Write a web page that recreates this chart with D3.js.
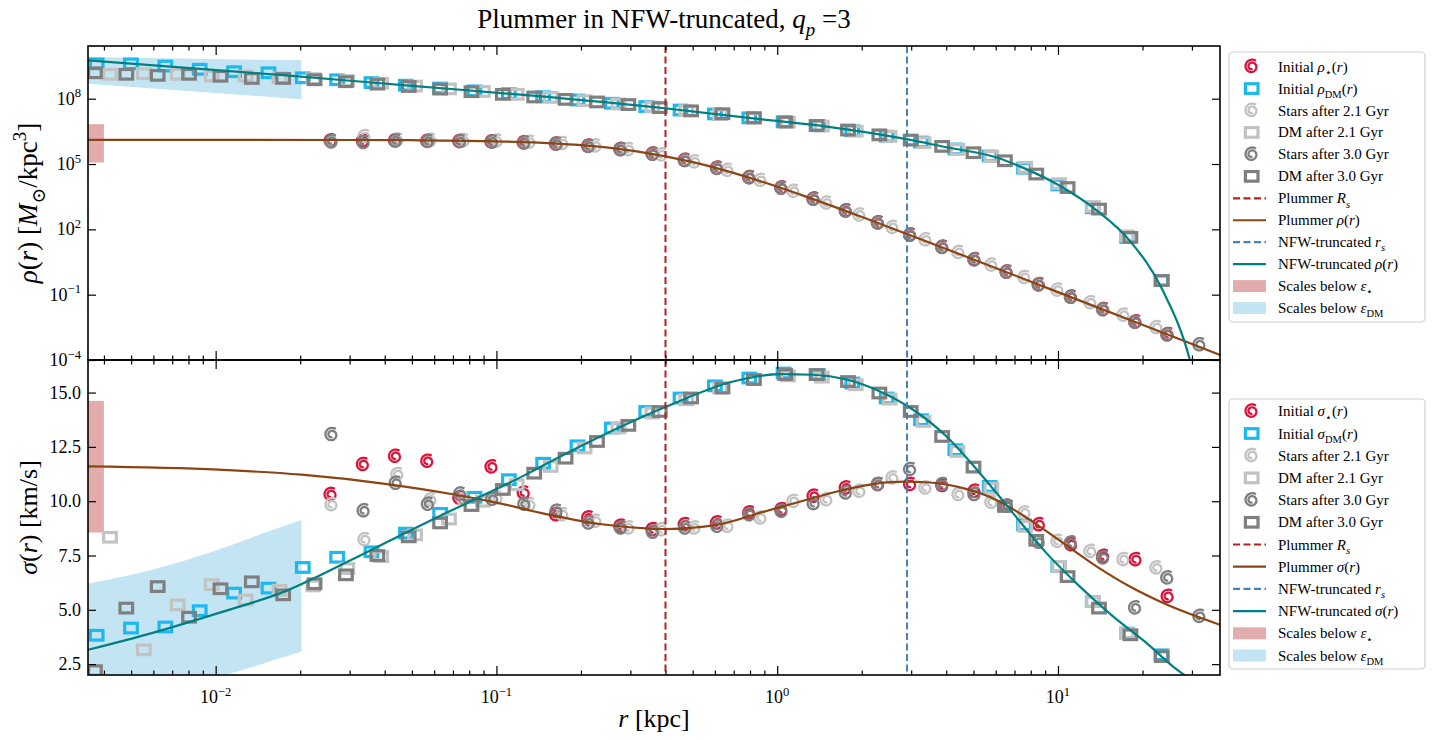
<!DOCTYPE html>
<html><head><meta charset="utf-8">
<script src="https://cdn.jsdelivr.net/npm/d3@7"></script>
<style>body{margin:0;background:#fff;} svg{display:block;}</style>
</head><body><svg id="c" width="1445" height="740"></svg>
<script>
// ---------------- DATA ----------------
// radii of the radial bins [kpc]
const rStarInit = [0.0257,0.0335,0.0436,0.0568,0.0739,0.0962,0.1253,0.1632,0.2125,0.2767,0.3602,0.469,0.611,0.796,1.036,1.349,1.757,2.287,2.979,3.879,5.051,6.577,8.564,11.15,14.52,18.91,24.62];
const rStar21 = [0.02588,0.03393,0.04446,0.0583,0.0764,0.1002,0.1313,0.172,0.2256,0.2956,0.3876,0.5079,0.6658,0.8726,1.144,1.499,1.965,2.576,3.377,4.426,5.8,7.603,9.966,13.06,17.12,22.44];
const rStar30 = [0.02588,0.0337,0.04386,0.0571,0.07431,0.09674,0.1259,0.1639,0.2133,0.2777,0.3614,0.4705,0.6124,0.7969,1.0375,1.3502,1.758,2.288,2.978,3.876,5.046,6.568,8.548,11.13,14.49,18.85,24.54,31.94];
const rDMInit = [0.003768,0.004994,0.00662,0.008774,0.01163,0.01542,0.02043,0.02708,0.03589,0.04756,0.06302,0.08352,0.1107,0.1467,0.1944,0.2577,0.3416,0.4526,0.6,0.7955,1.054,1.397,1.851,2.454,3.252,4.309,5.712,7.571,10.03,13.3,17.62,23.36];
const rDM21 = [0.004203,0.00555,0.007329,0.009678,0.01278,0.01688,0.02228,0.02943,0.03886,0.05131,0.06776,0.08948,0.1181,0.156,0.206,0.272,0.3592,0.4743,0.6263,0.827,1.092,1.442,1.904,2.514,3.32,4.384,5.789,7.644,10.09,13.33,17.6];
const rDM30 = [0.003716,0.004805,0.006216,0.00804,0.0104,0.01345,0.0174,0.0225,0.02911,0.03765,0.04871,0.063,0.08149,0.1054,0.1363,0.1763,0.2281,0.295,0.3816,0.4935,0.6384,0.8258,1.068,1.381,1.787,2.311,2.989,3.867,5.002,6.47,8.369,10.82,14.0,18.11,23.42];

// density, log10(rho / [Msun/kpc^3])
const logRhoStarInit = [6.05,6.05,6.06,6.04,6.03,6.01,5.97,5.91,5.81,5.66,5.45,5.16,4.80,4.37,3.89,3.38,2.84,2.29,1.73,1.17,0.60,0.03,-0.55,-1.12,-1.69,-2.26,-2.84];
const logRhoStar21 = [5.98,6.25,6.09,6.08,6.06,6.04,5.99,5.93,5.82,5.65,5.41,5.09,4.70,4.24,3.74,3.20,2.65,2.08,1.51,0.93,0.35,-0.22,-0.80,-1.38,-1.95,-2.52];
const logRhoStar30 = [6.03,5.98,6.05,6.03,6.02,6.00,5.96,5.90,5.80,5.65,5.44,5.15,4.79,4.36,3.88,3.37,2.83,2.28,1.72,1.16,0.59,0.02,-0.56,-1.13,-1.70,-2.28,-2.86,-3.31];
const logRhoDMInit = [9.60,9.60,9.50,9.35,9.24,9.19,8.96,8.87,8.74,8.62,8.49,8.36,8.23,8.09,7.94,7.79,7.64,7.48,7.30,7.12,6.94,6.76,6.53,6.28,6.01,5.69,5.37,4.81,4.04,2.99,1.63,-0.35];
const logRhoDM21 = [9.12,9.15,9.12,9.04,9.04,8.96,8.92,8.83,8.71,8.58,8.45,8.33,8.20,8.06,7.91,7.76,7.62,7.45,7.27,7.09,6.92,6.74,6.51,6.27,5.98,5.67,5.35,4.85,4.10,3.05,1.70];
const logRhoDM30 = [9.19,9.12,9.07,9.12,9.03,8.93,8.93,8.87,8.78,8.67,8.56,8.44,8.32,8.20,8.08,7.97,7.85,7.73,7.59,7.44,7.31,7.13,6.93,6.77,6.56,6.34,6.10,5.81,5.52,5.15,4.54,3.92,2.93,1.63,-0.35];

// velocity dispersion [km/s]
const sigStarInit = [10.3,11.68,12.06,11.83,10.14,11.57,10.37,9.37,9.22,8.84,8.68,8.91,8.99,9.45,9.60,10.22,10.6,10.76,10.76,10.71,10.45,9.76,8.91,7.99,7.45,7.30,5.61];
const sigStar21 = [9.83,8.22,11.22,10.05,10.06,10.14,9.83,9.37,9.07,8.76,8.68,8.76,8.84,9.22,9.98,10.06,10.45,11.06,10.6,10.3,9.94,9.45,8.14,7.68,7.30,6.92];
const sigStar30 = [13.06,9.55,10.82,9.85,10.32,10.08,9.85,9.53,8.99,8.76,8.56,8.76,8.84,9.37,9.53,9.88,10.37,10.76,11.45,10.76,10.3,9.76,8.1,8.07,7.38,5.08,6.46,4.69];
const sigDMInit = [3.83,4.16,4.21,4.96,5.77,6.0,6.95,7.42,7.67,8.53,9.44,10.18,10.99,11.75,12.55,13.37,14.13,14.75,15.31,15.67,15.9,15.83,15.44,14.75,13.75,12.37,10.68,8.91,7.0,5.38,3.93,2.93];
const sigDM21 = [8.34,3.16,5.23,6.16,5.45,5.9,6.1,6.9,7.45,8.45,9.18,10.0,10.76,11.6,12.45,13.37,14.06,14.67,15.21,15.6,15.77,15.71,15.36,14.7,13.67,12.29,10.6,8.84,7.0,5.38,3.93];
const sigDM30 = [2.2,5.08,6.07,4.66,5.97,6.29,5.69,6.2,6.61,7.5,8.36,9.0,9.8,10.54,11.29,11.98,12.75,13.49,14.13,14.75,15.21,15.6,15.83,15.83,15.51,14.98,14.13,12.98,11.57,9.76,8.2,6.53,5.08,3.85,2.85];

// model curves
const rPlumRho = [0.00351,0.0316,0.0501,0.1,0.1585,0.1995,0.3162,0.5012,0.7943,1.259,1.995,3.162,5.623,10,17.78,37.76];
const logPlumRho = [6.11,6.103,6.093,6.044,5.952,5.869,5.583,5.085,4.375,3.516,2.578,1.603,0.365,-0.882,-2.131,-3.765];
const rNfwRho = [0.00351,0.0169,0.05,0.128,0.398,0.868,1.5,2.89,4.0,6.05,7.6,10.0,13.7,18.0,23.6,29.5,31.5];
const logNfwRho = [9.76,9.09,8.59,8.16,7.56,7.06,6.72,6.14,5.77,5.30,4.80,4.05,2.88,1.48,-0.80,-4.0,-5.5];
const rPlumSig = [0.00351,0.01021,0.02023,0.04009,0.06918,0.1028,0.1549,0.2333,0.3516,0.4036,0.6081,0.9162,1.343,1.766,2.323,2.812,3.499,4.592,6.039,7.943,10.44,13.71,18.03,23.71,37.76];
const plumSig = [11.6,11.45,11.22,10.8,10.33,9.9,9.37,8.95,8.74,8.72,8.91,9.55,10.15,10.55,10.83,10.9,10.86,10.6,10.06,9.14,8.07,7.0,6.07,5.31,4.31];
const rNfwSig = [0.00351,0.00592,0.01021,0.01766,0.03048,0.05272,0.07834,0.1262,0.1778,0.4036,0.6966,1.023,1.343,1.766,2.323,3.048,4.009,5.272,6.918,9.099,11.97,15.74,20.7,25.7,32.06];
const nfwSig = [3.16,3.93,4.85,5.85,7.30,8.84,9.91,11.2,12.21,14.36,15.51,15.85,15.82,15.6,15.05,14.21,12.98,11.29,9.45,7.61,6.07,4.69,3.47,2.39,1.5];

// scale radii and softening bands
const plummerRs = 0.40, nfwRs = 2.9;
const epsStar = 0.004, epsDM = 0.02;
const bandStarLogRho = [5.07, 6.83];
const bandStarSig = [8.56, 14.62];
const bandDMRhoR = [0.00351, 0.0202];
const bandDMLogRhoTop = [9.91, 9.76];
const bandDMLogRhoBot = [8.69, 7.97];
const bandDMSigR = [0.00351,0.00592,0.01021,0.01538,0.0202];
const bandDMSigTop = [6.2,6.84,7.76,8.6,9.14];
const bandDMSigBot = [0.3,1.0,1.9,2.6,3.08];

// ticks
const xMajor = [0.01,0.1,1,10];
const xMajorExp = ["−2","−1","0","1"];
const yTopExp = [-4,-1,2,5,8];
const yBotTicks = [2.5,5,7.5,10,12.5,15];

// ---------------- DRAWING ----------------
const FONT = "'Liberation Serif','DejaVu Serif',serif";
const C = {
  starInit:"#dc143c", dmInit:"#1cb8ee", lgray:"#c2c2c2", gray:"#7f7f7f",
  plumRs:"#b22222", plum:"#8b4513", nfwRs:"#4682b4", nfw:"#008080",
  bandStar:"#e3acac", bandDM:"#c3e5f3"
};
const svg = d3.select("#c");
const L = 88, R = 1220, T1 = 46, B1 = 360, T2 = 360, B2 = 675;

const x = d3.scaleLog().domain([0.00351, 37.76]).range([L, R]);
const yTop = d3.scaleLog().domain([1e-4, Math.pow(10, 10.42)]).range([B1, T1]);
const yBot = d3.scaleLinear().domain([2.0, 16.5]).range([B2, T2]);

const defs = svg.append("defs");
defs.append("clipPath").attr("id","clipTop").append("rect").attr("x",L).attr("y",T1).attr("width",R-L).attr("height",B1-T1);
defs.append("clipPath").attr("id","clipBot").append("rect").attr("x",L).attr("y",T2).attr("width",R-L).attr("height",B2-T2);

// rich text helper
function rich(sel, segs, size) {
  let cur = 0;
  segs.forEach(s => {
    const f = s[1] || "";
    const sub = f.includes("b"), sup = f.includes("p");
    const target = sub ? size*0.28 : (sup ? -size*0.4 : 0);
    sel.append("tspan")
      .attr("dy", (target - cur).toFixed(2))
      .attr("font-style", f.includes("i") ? "italic" : "normal")
      .attr("font-size", (sub||sup) ? size*0.7 : size)
      .text(s[0]);
    cur = target;
  });
  return sel;
}

// marker shapes
const starD = (() => {
  const pts = [];
  const n = 70;
  for (let i = 0; i <= n; i++) {
    const t = i / n;
    const th = Math.PI*0.3 + t * 3.3 * Math.PI;
    const rr = 7.2 * (1 - 0.68 * t);
    pts.push([rr * Math.cos(th), -rr * Math.sin(th)]);
  }
  return d3.line().curve(d3.curveCatmullRom)(pts);
})();
function drawStars(g, rs, vals, yS, color) {
  g.append("g").selectAll("path").data(rs.map((r,i)=>[r, vals[i]])).join("path")
    .attr("d", starD)
    .attr("transform", d => `translate(${x(d[0])},${yS(d[1])})`)
    .attr("fill","none").attr("stroke", color).attr("stroke-width", 2.3);
}
function drawSquares(g, rs, vals, yS, color) {
  g.append("g").selectAll("rect").data(rs.map((r,i)=>[r, vals[i]])).join("rect")
    .attr("x", d => x(d[0]) - 6.3).attr("y", d => yS(d[1]) - 4.8)
    .attr("width", 12.6).attr("height", 9.6)
    .attr("fill","none").attr("stroke", color).attr("stroke-width", 3.2);
}
const pw = v => Math.pow(10, v);

// ---------- TOP PANEL ----------
const gT = svg.append("g").attr("clip-path","url(#clipTop)");
gT.append("rect").attr("x", L).attr("width", x(epsStar) - L)
  .attr("y", yTop(pw(bandStarLogRho[1]))).attr("height", yTop(pw(bandStarLogRho[0])) - yTop(pw(bandStarLogRho[1])))
  .attr("fill", C.bandStar);
gT.append("path").datum(bandDMRhoR.map((r,i)=>[r, pw(bandDMLogRhoTop[i]), pw(bandDMLogRhoBot[i])]))
  .attr("d", d3.area().x(d=>x(d[0])).y0(d=>yTop(d[2])).y1(d=>yTop(d[1])))
  .attr("fill", C.bandDM);
drawStars(gT, rStarInit, logRhoStarInit.map(pw), yTop, C.starInit);
drawSquares(gT, rDMInit, logRhoDMInit.map(pw), yTop, C.dmInit);
drawStars(gT, rStar21, logRhoStar21.map(pw), yTop, C.lgray);
drawSquares(gT, rDM21, logRhoDM21.map(pw), yTop, C.lgray);
drawStars(gT, rStar30, logRhoStar30.map(pw), yTop, C.gray);
drawSquares(gT, rDM30, logRhoDM30.map(pw), yTop, C.gray);
const lineTop = d3.line().x(d=>x(d[0])).y(d=>yTop(d[1])).curve(d3.curveMonotoneX);
gT.append("path").datum(rPlumRho.map((r,i)=>[r, pw(logPlumRho[i])])).attr("d", lineTop)
  .attr("fill","none").attr("stroke", C.plum).attr("stroke-width", 2.2);
gT.append("path").datum(rNfwRho.map((r,i)=>[r, pw(logNfwRho[i])])).attr("d", lineTop)
  .attr("fill","none").attr("stroke", C.nfw).attr("stroke-width", 2.2);

// ---------- BOTTOM PANEL ----------
const gB = svg.append("g").attr("clip-path","url(#clipBot)");
gB.append("rect").attr("x", L).attr("width", x(epsStar) - L)
  .attr("y", yBot(bandStarSig[1])).attr("height", yBot(bandStarSig[0]) - yBot(bandStarSig[1]))
  .attr("fill", C.bandStar);
gB.append("path").datum(bandDMSigR.map((r,i)=>[r, bandDMSigTop[i], bandDMSigBot[i]]))
  .attr("d", d3.area().x(d=>x(d[0])).y0(d=>yBot(d[2])).y1(d=>yBot(d[1])).curve(d3.curveMonotoneX))
  .attr("fill", C.bandDM);
drawStars(gB, rStarInit, sigStarInit, yBot, C.starInit);
drawSquares(gB, rDMInit, sigDMInit, yBot, C.dmInit);
drawStars(gB, rStar21, sigStar21, yBot, C.lgray);
drawSquares(gB, rDM21, sigDM21, yBot, C.lgray);
drawStars(gB, rStar30, sigStar30, yBot, C.gray);
drawSquares(gB, rDM30, sigDM30, yBot, C.gray);
const lineBot = d3.line().x(d=>x(d[0])).y(d=>yBot(d[1])).curve(d3.curveMonotoneX);
gB.append("path").datum(rPlumSig.map((r,i)=>[r, plumSig[i]])).attr("d", lineBot)
  .attr("fill","none").attr("stroke", C.plum).attr("stroke-width", 2.2);
gB.append("path").datum(rNfwSig.map((r,i)=>[r, nfwSig[i]])).attr("d", lineBot)
  .attr("fill","none").attr("stroke", C.nfw).attr("stroke-width", 2.2);

// vertical scale-radius lines (both panels)
[[T1,B1],[T2,B2]].forEach(([a,b]) => {
  svg.append("line").attr("x1", x(plummerRs)).attr("x2", x(plummerRs)).attr("y1", a).attr("y2", b)
    .attr("stroke", C.plumRs).attr("stroke-width", 2).attr("stroke-dasharray", "7,3.5");
  svg.append("line").attr("x1", x(nfwRs)).attr("x2", x(nfwRs)).attr("y1", a).attr("y2", b)
    .attr("stroke", C.nfwRs).attr("stroke-width", 2).attr("stroke-dasharray", "7,3.5");
});

// ---------- AXES ----------
const xMinor = [];
for (let d = -3; d <= 1; d++) for (let m = 2; m <= 9; m++) {
  const v = m * Math.pow(10, d);
  if (v > 0.00351 && v < 37.76) xMinor.push(v);
}
function styleAxis(g) {
  g.select(".domain").remove();
  g.selectAll(".tick line").attr("stroke","#000").attr("stroke-width",1.2);
  g.selectAll(".tick text").remove();
}
[[T1,B1],[T2,B2]].forEach(([a,b]) => {
  svg.append("g").attr("transform",`translate(0,${b})`).call(d3.axisBottom(x).tickValues(xMajor).tickSize(-9).tickFormat(()=>"")).call(styleAxis);
  svg.append("g").attr("transform",`translate(0,${b})`).call(d3.axisBottom(x).tickValues(xMinor).tickSize(-4.5).tickFormat(()=>"")).call(styleAxis);
  svg.append("g").attr("transform",`translate(0,${a})`).call(d3.axisTop(x).tickValues(xMajor).tickSize(-9).tickFormat(()=>"")).call(styleAxis);
  svg.append("g").attr("transform",`translate(0,${a})`).call(d3.axisTop(x).tickValues(xMinor).tickSize(-4.5).tickFormat(()=>"")).call(styleAxis);
});
const yTopVals = yTopExp.map(pw);
svg.append("g").attr("transform",`translate(${L},0)`).call(d3.axisLeft(yTop).tickValues(yTopVals).tickSize(-8).tickFormat(()=>"")).call(styleAxis);
svg.append("g").attr("transform",`translate(${R},0)`).call(d3.axisRight(yTop).tickValues(yTopVals).tickSize(-8).tickFormat(()=>"")).call(styleAxis);
svg.append("g").attr("transform",`translate(${L},0)`).call(d3.axisLeft(yBot).tickValues(yBotTicks).tickSize(-8).tickFormat(()=>"")).call(styleAxis);
svg.append("g").attr("transform",`translate(${R},0)`).call(d3.axisRight(yBot).tickValues(yBotTicks).tickSize(-8).tickFormat(()=>"")).call(styleAxis);

[[T1,B1],[T2,B2]].forEach(([a,b]) => {
  svg.append("rect").attr("x",L).attr("y",a).attr("width",R-L).attr("height",b-a)
    .attr("fill","none").attr("stroke","#000").attr("stroke-width",1.6);
});

// tick labels
const TS = 18;
yTopExp.forEach(e => {
  const t = svg.append("text").attr("x", L - 7).attr("y", yTop(pw(e)) + 6)
    .attr("text-anchor","end").attr("font-family",FONT).attr("font-size",TS).attr("fill","#000");
  rich(t, [["10"],[e < 0 ? "−" + Math.abs(e) : String(e), "p"]], TS);
});
yBotTicks.forEach(v => {
  svg.append("text").attr("x", L - 7).attr("y", yBot(v) + 6)
    .attr("text-anchor","end").attr("font-family",FONT).attr("font-size",TS).attr("fill","#000")
    .text(v.toFixed(1));
});
xMajor.forEach((v,i) => {
  const t = svg.append("text").attr("x", x(v)).attr("y", B2 + 28)
    .attr("text-anchor","middle").attr("font-family",FONT).attr("font-size",TS).attr("fill","#000");
  rich(t, [["10"],[xMajorExp[i], "p"]], TS);
});

// axis labels & title
const LS = 26;
rich(svg.append("text").attr("transform",`translate(37,${(T1+B1)/2}) rotate(-90)`).attr("text-anchor","middle")
  .attr("font-family",FONT).attr("font-size",LS+1).attr("fill","#000"),
  [["ρ","i"],["("],["r","i"],[") ["],["M","i"],["⊙","b"],["/kpc"],["3","p"],["]"]], LS+1);
rich(svg.append("text").attr("transform",`translate(37,${(T2+B2)/2}) rotate(-90)`).attr("text-anchor","middle")
  .attr("font-family",FONT).attr("font-size",LS).attr("fill","#000"),
  [["σ","i"],["("],["r","i"],[") [km/s]"]], LS);
rich(svg.append("text").attr("x",(L+R)/2).attr("y",727).attr("text-anchor","middle")
  .attr("font-family",FONT).attr("font-size",LS).attr("fill","#000"),
  [["r","i"],[" [kpc]"]], LS);
rich(svg.append("text").attr("x",(L+R)/2 + 10).attr("y",28).attr("text-anchor","middle")
  .attr("font-family",FONT).attr("font-size",LS+1).attr("fill","#000"),
  [["Plummer in NFW-truncated, "],["q","i"],["p","ib"],[" =3"]], LS+1);

// ---------- LEGENDS ----------
function legend(top, bottom, y0, step, q) {
  const g = svg.append("g");
  g.append("rect").attr("x",1229).attr("y",top).attr("width",196).attr("height",bottom-top)
    .attr("rx",4).attr("fill","#fff").attr("stroke","#d0d0d0").attr("stroke-width",1.2);
  const items = [
    {k:"star", c:C.starInit, t:[["Initial "],[q,"i"],["⋆","b"],["("],["r","i"],[")"]]},
    {k:"sq", c:C.dmInit, t:[["Initial "],[q,"i"],["DM","b"],["("],["r","i"],[")"]]},
    {k:"star", c:C.lgray, t:[["Stars after 2.1 Gyr"]]},
    {k:"sq", c:C.lgray, t:[["DM after 2.1 Gyr"]]},
    {k:"star", c:C.gray, t:[["Stars after 3.0 Gyr"]]},
    {k:"sq", c:C.gray, t:[["DM after 3.0 Gyr"]]},
    {k:"dash", c:C.plumRs, t:[["Plummer "],["R","i"],["s","ib"]]},
    {k:"line", c:C.plum, t:[["Plummer "],[q,"i"],["("],["r","i"],[")"]]},
    {k:"dash", c:C.nfwRs, t:[["NFW-truncated "],["r","i"],["s","ib"]]},
    {k:"line", c:C.nfw, t:[["NFW-truncated "],[q,"i"],["("],["r","i"],[")"]]},
    {k:"patch", c:C.bandStar, t:[["Scales below "],["ε","i"],["⋆","b"]]},
    {k:"patch", c:C.bandDM, t:[["Scales below "],["ε","i"],["DM","b"]]}
  ];
  items.forEach((it, i) => {
    const cy = y0 + i*step;
    if (it.k === "star") g.append("path").attr("d", starD).attr("transform",`translate(1251.7,${cy})`)
      .attr("fill","none").attr("stroke",it.c).attr("stroke-width",2.3);
    if (it.k === "sq") g.append("rect").attr("x",1245.4).attr("y",cy-4.8).attr("width",12.6).attr("height",9.6)
      .attr("fill","none").attr("stroke",it.c).attr("stroke-width",3.2);
    if (it.k === "dash" || it.k === "line") g.append("line").attr("x1",1233).attr("x2",1266).attr("y1",cy).attr("y2",cy)
      .attr("stroke",it.c).attr("stroke-width",2.2).attr("stroke-dasharray", it.k === "dash" ? "7,3.5" : null);
    if (it.k === "patch") g.append("rect").attr("x",1233).attr("y",cy-6).attr("width",33).attr("height",12).attr("fill",it.c);
    const t = g.append("text").attr("x",1278).attr("y",cy+5).attr("font-family",FONT).attr("font-size",15).attr("fill","#000");
    rich(t, it.t, 15);
  });
}
legend(52, 322, 66.6, 21.95, "ρ");
legend(399, 669, 411.3, 22.2, "σ");
</script></body></html>
